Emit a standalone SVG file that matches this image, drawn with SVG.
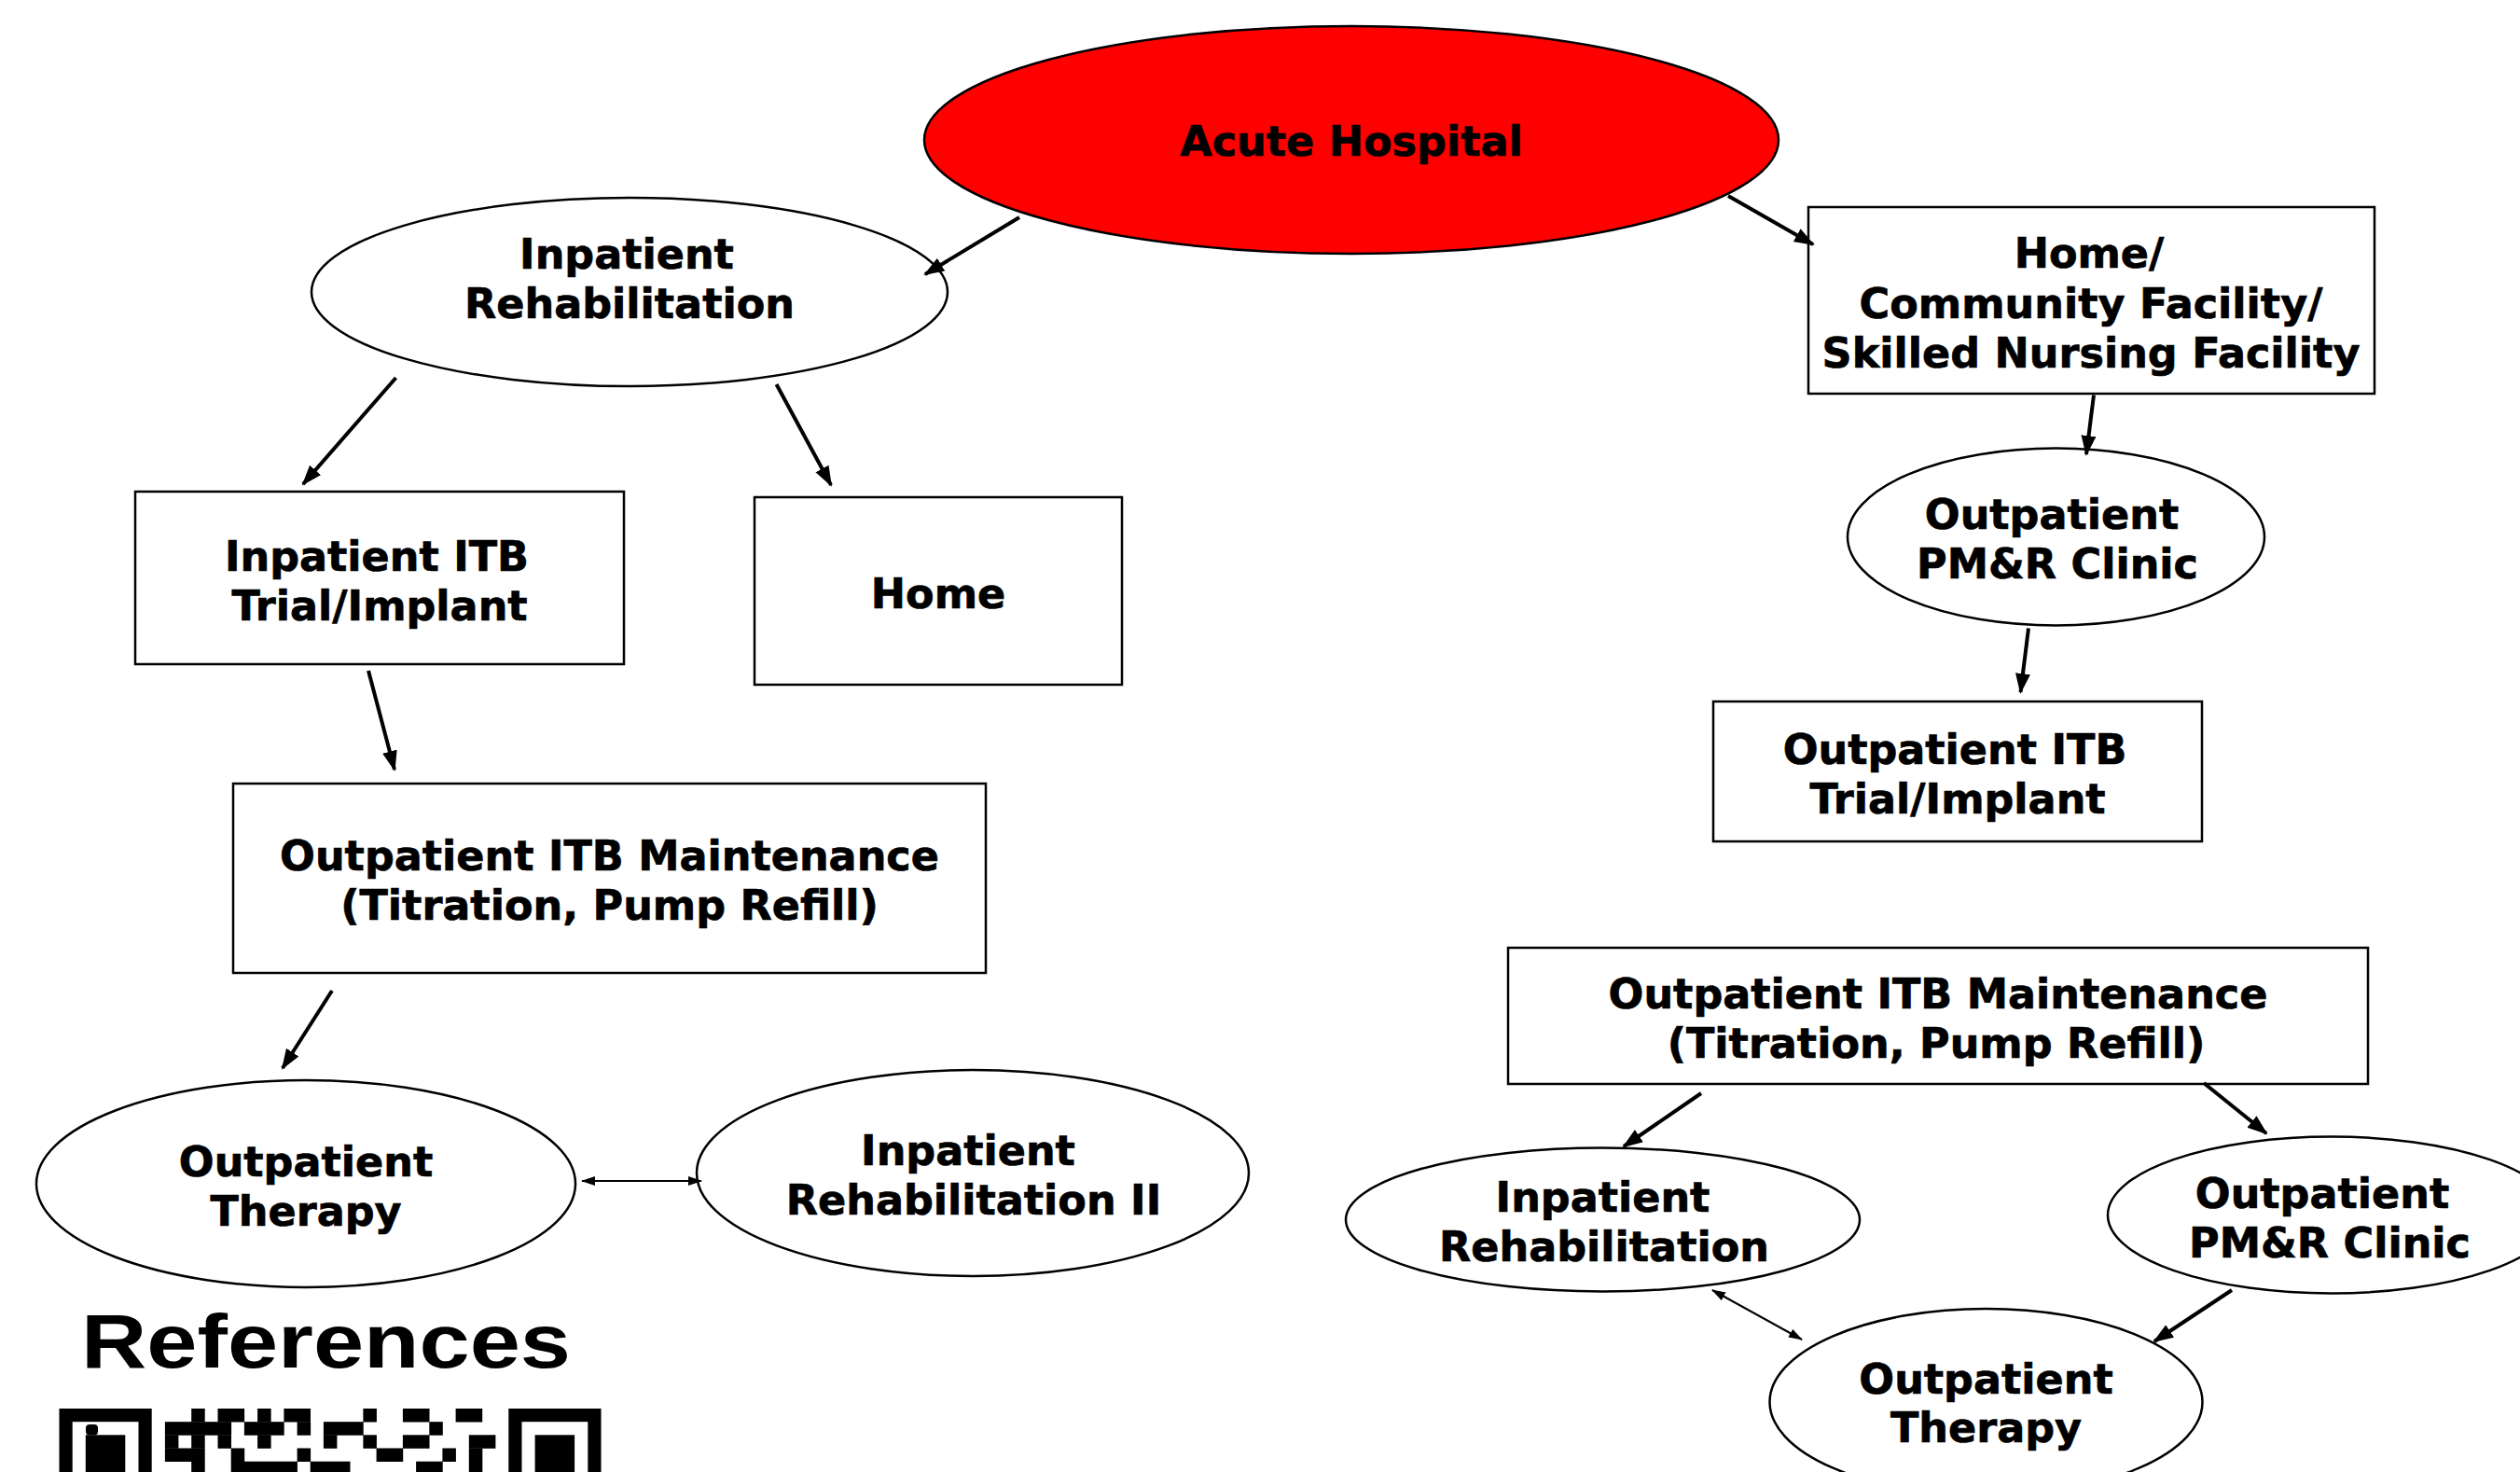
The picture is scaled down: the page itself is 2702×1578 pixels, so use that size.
<svg xmlns="http://www.w3.org/2000/svg" width="2702" height="1578" viewBox="0 0 2702 1578">
<style>
.n{fill:#fff;stroke:#000;stroke-width:2.5}
.t{font-family:"DejaVu Sans","Verdana",sans-serif;font-weight:bold;font-size:44.5px;fill:#000;stroke:#000;stroke-width:0.7;text-anchor:middle}
.c{stroke:#000;stroke-width:4;fill:none}
.d{stroke:#000;stroke-width:2;fill:none}
.q{fill:#000}
</style>
<defs>
<marker id="ah" markerUnits="userSpaceOnUse" markerWidth="22" markerHeight="18" refX="20" refY="8" orient="auto"><path d="M0,0 L22,8 L0,16 z" fill="#000"/></marker>
<marker id="sh" markerUnits="userSpaceOnUse" markerWidth="16" markerHeight="12" refX="14" refY="5" orient="auto-start-reverse"><path d="M0,0 L15,5 L0,10 z" fill="#000"/></marker>
</defs>
<rect width="2702" height="1578" fill="#fff"/>

<g id="acute-hospital"><ellipse cx="1449" cy="150" rx="458" ry="122" fill="#ff0000" stroke="#000" stroke-width="2.5"/><text class="t" x="1449" y="167">Acute Hospital</text></g>
<g id="inpatient-rehab-1"><ellipse class="n" cx="675" cy="313" rx="341" ry="101"/><text class="t" x="672" y="287.5">Inpatient</text><text class="t" x="675" y="341">Rehabilitation</text></g>
<g id="inpatient-itb"><rect class="n" x="145" y="527" width="524" height="185"/><text class="t" x="404" y="611.5">Inpatient ITB</text><text class="t" x="407" y="665">Trial/Implant</text></g>
<g id="home"><rect class="n" x="809" y="533" width="394" height="201"/><text class="t" x="1006" y="651.5">Home</text></g>
<g id="itb-maint-1"><rect class="n" x="250" y="840" width="807" height="203"/><text class="t" x="653.5" y="932.5">Outpatient ITB Maintenance</text><text class="t" x="653.5" y="986">(Titration, Pump Refill)</text></g>
<g id="outpatient-therapy-1"><ellipse class="n" cx="328" cy="1269" rx="289" ry="111"/><text class="t" x="328" y="1260.5">Outpatient</text><text class="t" x="328" y="1314">Therapy</text></g>
<g id="inpatient-rehab-2"><ellipse class="n" cx="1043" cy="1257.5" rx="296" ry="110.5"/><text class="t" x="1038" y="1248.5">Inpatient</text><text class="t" x="1044" y="1302">Rehabilitation II</text></g>

<g id="home-community"><rect class="n" x="1939" y="222" width="607" height="200"/><text class="t" x="2240" y="286.5">Home/</text><text class="t" x="2242" y="340.5">Community Facility/</text><text class="t" x="2242" y="394">Skilled Nursing Facility</text></g>
<g id="pmr-clinic-1"><ellipse class="n" cx="2204.5" cy="575.5" rx="223.5" ry="95"/><text class="t" x="2200" y="566.5">Outpatient</text><text class="t" x="2206" y="620">PM&amp;R Clinic</text></g>
<g id="outpatient-itb"><rect class="n" x="1837" y="752" width="524" height="150"/><text class="t" x="2096" y="818.5">Outpatient ITB</text><text class="t" x="2099" y="872">Trial/Implant</text></g>
<g id="itb-maint-2"><rect class="n" x="1617" y="1016" width="922" height="146"/><text class="t" x="2078" y="1081">Outpatient ITB Maintenance</text><text class="t" x="2076" y="1134">(Titration, Pump Refill)</text></g>
<g id="inpatient-rehab-3"><ellipse class="n" cx="1718.5" cy="1307.5" rx="275.5" ry="77"/><text class="t" x="1718.5" y="1298.5">Inpatient</text><text class="t" x="1720" y="1352">Rehabilitation</text></g>
<g id="pmr-clinic-2"><ellipse class="n" cx="2500" cy="1302.5" rx="240" ry="84"/><text class="t" x="2490" y="1294.5">Outpatient</text><text class="t" x="2498" y="1348">PM&amp;R Clinic</text></g>
<g id="outpatient-therapy-2"><ellipse class="n" cx="2129.5" cy="1503" rx="232" ry="100"/><text class="t" x="2129.5" y="1493.5">Outpatient</text><text class="t" x="2129.5" y="1546">Therapy</text></g>

<g id="connectors">
<line class="c" x1="1093" y1="233" x2="992" y2="294" marker-end="url(#ah)"/>
<line class="c" x1="1853" y1="210" x2="1944" y2="262" marker-end="url(#ah)"/>
<line class="c" x1="424.5" y1="405" x2="325" y2="519" marker-end="url(#ah)"/>
<line class="c" x1="832.5" y1="412" x2="891" y2="520" marker-end="url(#ah)"/>
<line class="c" x1="395" y1="719" x2="423" y2="825" marker-end="url(#ah)"/>
<line class="c" x1="356" y1="1062" x2="303" y2="1145" marker-end="url(#ah)"/>
<line class="c" x1="2245" y1="423.5" x2="2237" y2="487" marker-end="url(#ah)"/>
<line class="c" x1="2175" y1="673.5" x2="2166.5" y2="742" marker-end="url(#ah)"/>
<line class="c" x1="1824" y1="1172" x2="1741" y2="1229" marker-end="url(#ah)"/>
<line class="c" x1="2363" y1="1161" x2="2430" y2="1215" marker-end="url(#ah)"/>
<line class="c" x1="2393" y1="1383" x2="2310" y2="1438" marker-end="url(#ah)"/>
<line class="d" x1="624" y1="1266" x2="752" y2="1266" marker-start="url(#sh)" marker-end="url(#sh)"/>
<line class="d" x1="1836" y1="1383" x2="1932" y2="1436" marker-start="url(#sh)" marker-end="url(#sh)"/>
</g>

<text x="87" y="1466" font-family="'Liberation Sans',Arial,sans-serif" font-weight="bold" font-size="81" textLength="525" lengthAdjust="spacingAndGlyphs" fill="#000">References</text>

<g id="qr">
<rect class="q" x="63.5" y="1510" width="99.2" height="99.2"/>
<rect fill="#fff" x="77.7" y="1524.2" width="70.8" height="70.8"/>
<rect class="q" x="91.8" y="1538.3" width="42.5" height="42.5"/>
<rect class="q" x="92" y="1527" width="13" height="11.5" rx="4"/>
<rect class="q" x="545.3" y="1510" width="99.2" height="99.2"/>
<rect fill="#fff" x="559.5" y="1524.2" width="70.8" height="70.8"/>
<rect class="q" x="573.6" y="1538.3" width="42.5" height="42.5"/>
<rect class="q" x="205.2" y="1510" width="14.5" height="14.5"/>
<rect class="q" x="233.5" y="1510" width="28.6" height="14.5"/>
<rect class="q" x="276.1" y="1510" width="14.5" height="14.5"/>
<rect class="q" x="304.4" y="1510" width="28.6" height="14.5"/>
<rect class="q" x="389.4" y="1510" width="14.5" height="14.5"/>
<rect class="q" x="431.9" y="1510" width="28.6" height="14.5"/>
<rect class="q" x="488.6" y="1510" width="28.6" height="14.5"/>
<rect class="q" x="176.9" y="1524.2" width="71.2" height="14.5"/>
<rect class="q" x="261.9" y="1524.2" width="42.8" height="14.5"/>
<rect class="q" x="318.6" y="1524.2" width="14.5" height="14.5"/>
<rect class="q" x="346.9" y="1524.2" width="42.8" height="14.5"/>
<rect class="q" x="460.3" y="1524.2" width="14.5" height="14.5"/>
<rect class="q" x="176.9" y="1538.3" width="14.5" height="14.5"/>
<rect class="q" x="205.2" y="1538.3" width="14.5" height="14.5"/>
<rect class="q" x="233.5" y="1538.3" width="14.5" height="14.5"/>
<rect class="q" x="276.1" y="1538.3" width="14.5" height="14.5"/>
<rect class="q" x="346.9" y="1538.3" width="14.5" height="14.5"/>
<rect class="q" x="389.4" y="1538.3" width="14.5" height="14.5"/>
<rect class="q" x="431.9" y="1538.3" width="28.6" height="14.5"/>
<rect class="q" x="502.8" y="1538.3" width="28.6" height="14.5"/>
<rect class="q" x="176.9" y="1552.5" width="42.8" height="14.5"/>
<rect class="q" x="247.7" y="1552.5" width="14.5" height="14.5"/>
<rect class="q" x="318.6" y="1552.5" width="14.5" height="14.5"/>
<rect class="q" x="403.6" y="1552.5" width="28.6" height="14.5"/>
<rect class="q" x="474.4" y="1552.5" width="14.5" height="14.5"/>
<rect class="q" x="502.8" y="1552.5" width="14.5" height="14.5"/>
<rect class="q" x="205.2" y="1566.7" width="14.5" height="14.5"/>
<rect class="q" x="247.7" y="1566.7" width="71.2" height="14.5"/>
<rect class="q" x="332.7" y="1566.7" width="42.8" height="14.5"/>
<rect class="q" x="446.1" y="1566.7" width="28.6" height="14.5"/>
<rect class="q" x="502.8" y="1566.7" width="14.5" height="14.5"/>
</g>
</svg>
